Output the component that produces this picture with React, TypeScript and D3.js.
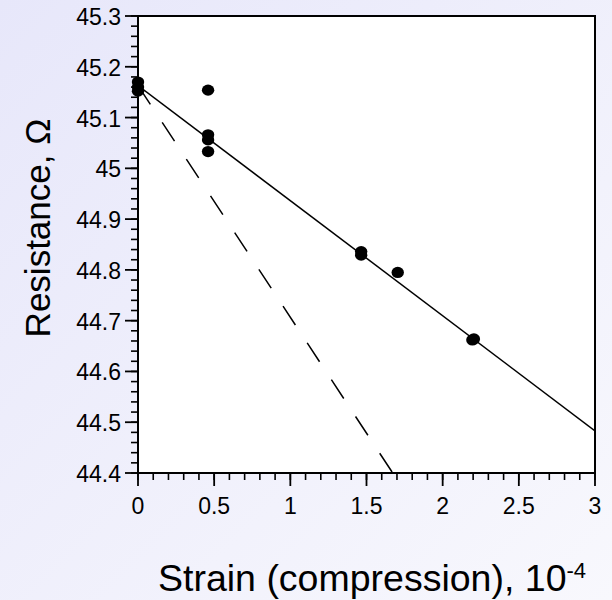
import { useEffect, useRef } from 'react';
import * as d3 from 'd3';

// measured points, strain in 1e-4
const strain = [0, 0, 0, 0.46, 0.46, 0.46, 0.46, 1.465, 1.465, 1.705, 2.195, 2.205];
const resistance = [45.17, 45.16, 45.152, 45.154, 45.066, 45.056, 45.033, 44.836, 44.829, 44.795, 44.662, 44.664];

// fitted line (solid) and the comparison line (dashed)
const fitStrain = [0, 3];
const fitResistance = [45.163, 44.483];
const dashStrain = [0, 1.672];
const dashResistance = [45.163, 44.4];

const xTicks = [0, 0.5, 1, 1.5, 2, 2.5, 3];
const xTickLabels = ['0', '0.5', '1', '1.5', '2', '2.5', '3'];
const yTicks = [44.4, 44.5, 44.6, 44.7, 44.8, 44.9, 45, 45.1, 45.2, 45.3];
const yTickLabels = ['44.4', '44.5', '44.6', '44.7', '44.8', '44.9', '45', '45.1', '45.2', '45.3'];

const FONT = '"Liberation Sans", Arial, sans-serif';

function App() {
  const svgRef = useRef<SVGSVGElement>(null);

  useEffect(() => {
    const width = 612;
    const height = 600;
    const m = { left: 138, top: 16, right: 17, bottom: 127 };

    const svg = d3.select(svgRef.current);
    svg.selectAll('*').remove();
    svg.attr('width', width).attr('height', height);

    const x = d3.scaleLinear().domain([0, 3]).range([m.left, width - m.right]);
    const y = d3.scaleLinear().domain([44.4, 45.3]).range([height - m.bottom, m.top]);

    // background
    const defs = svg.append('defs');
    const grad = defs.append('linearGradient')
      .attr('id', 'bg')
      .attr('x1', '0').attr('y1', '0').attr('x2', '1').attr('y2', '1');
    grad.append('stop').attr('offset', '0').attr('stop-color', '#e7e7fa');
    grad.append('stop').attr('offset', '1').attr('stop-color', '#f8f8fd');
    defs.append('clipPath').attr('id', 'plot')
      .append('rect')
      .attr('x', x(0)).attr('y', y(45.3))
      .attr('width', x(3) - x(0)).attr('height', y(44.4) - y(45.3));

    svg.append('rect').attr('width', width).attr('height', height).attr('fill', 'url(#bg)');
    svg.append('rect')
      .attr('x', x(0)).attr('y', y(45.3))
      .attr('width', x(3) - x(0)).attr('height', y(44.4) - y(45.3))
      .attr('fill', 'white');

    // lines
    const line = d3.line<number>()
      .x(d => x(d[0]))
      .y(d => y(d[1]));
    const g = svg.append('g').attr('clip-path', 'url(#plot)');
    g.append('path')
      .attr('d', line(dashStrain.map((s, i) => [s, dashResistance[i]]) as any))
      .attr('fill', 'none')
      .attr('stroke', 'black')
      .attr('stroke-width', 1.5)
      .attr('stroke-dasharray', '22.5 21.5');
    g.append('path')
      .attr('d', line(fitStrain.map((s, i) => [s, fitResistance[i]]) as any))
      .attr('fill', 'none')
      .attr('stroke', 'black')
      .attr('stroke-width', 1.5);

    // frame
    svg.append('rect')
      .attr('x', x(0)).attr('y', y(45.3))
      .attr('width', x(3) - x(0)).attr('height', y(44.4) - y(45.3))
      .attr('fill', 'none')
      .attr('stroke', 'black')
      .attr('stroke-width', 2);

    // ticks
    const yMinor = d3.range(0, 46).map(i => 44.4 + i * 0.02);
    svg.append('g').selectAll('line')
      .data(yMinor)
      .enter()
      .append('line')
      .attr('x1', x(0) - 7).attr('x2', x(0))
      .attr('y1', d => y(d)).attr('y2', d => y(d))
      .attr('stroke', 'black').attr('stroke-width', 1.6);
    svg.append('g').selectAll('line')
      .data(yTicks)
      .enter()
      .append('line')
      .attr('x1', x(0) - 13).attr('x2', x(0))
      .attr('y1', d => y(d)).attr('y2', d => y(d))
      .attr('stroke', 'black').attr('stroke-width', 1.8);

    const xMinor = d3.range(0, 31).map(i => i * 0.1);
    svg.append('g').selectAll('line')
      .data(xMinor)
      .enter()
      .append('line')
      .attr('x1', d => x(d)).attr('x2', d => x(d))
      .attr('y1', y(44.4)).attr('y2', y(44.4) + 7)
      .attr('stroke', 'black').attr('stroke-width', 1.6);
    svg.append('g').selectAll('line')
      .data(xTicks)
      .enter()
      .append('line')
      .attr('x1', d => x(d)).attr('x2', d => x(d))
      .attr('y1', y(44.4)).attr('y2', y(44.4) + 13)
      .attr('stroke', 'black').attr('stroke-width', 1.8);

    // tick labels
    svg.append('g').selectAll('text')
      .data(yTicks)
      .enter()
      .append('text')
      .attr('x', x(0) - 17)
      .attr('y', d => y(d) + 9)
      .attr('text-anchor', 'end')
      .attr('font-family', FONT)
      .attr('font-size', 23)
      .text((d, i) => yTickLabels[i]);
    svg.append('g').selectAll('text')
      .data(xTicks)
      .enter()
      .append('text')
      .attr('x', d => x(d))
      .attr('y', y(44.4) + 41)
      .attr('text-anchor', 'middle')
      .attr('font-family', FONT)
      .attr('font-size', 23)
      .text((d, i) => xTickLabels[i]);

    // points
    svg.append('g').selectAll('ellipse')
      .data(strain)
      .enter()
      .append('ellipse')
      .attr('cx', d => x(d))
      .attr('cy', (d, i) => y(resistance[i]))
      .attr('rx', 6.2)
      .attr('ry', 5.6)
      .attr('fill', 'black');

    // axis titles
    svg.append('text')
      .attr('transform', 'translate(50,228) rotate(-90)')
      .attr('text-anchor', 'middle')
      .attr('font-family', FONT)
      .attr('font-size', 35)
      .text('Resistance, Ω');

    const title = svg.append('text')
      .attr('x', 158)
      .attr('y', 591)
      .attr('font-family', FONT)
      .attr('font-size', 37.5);
    title.append('tspan').text('Strain (compression), 10');
    title.append('tspan')
      .attr('dy', -13)
      .attr('font-size', 22)
      .text('-4');
  }, []);

  return (
    <svg ref={svgRef} style={{ position: 'absolute', left: 0, top: 0 }}></svg>
  );
}

export default App;
